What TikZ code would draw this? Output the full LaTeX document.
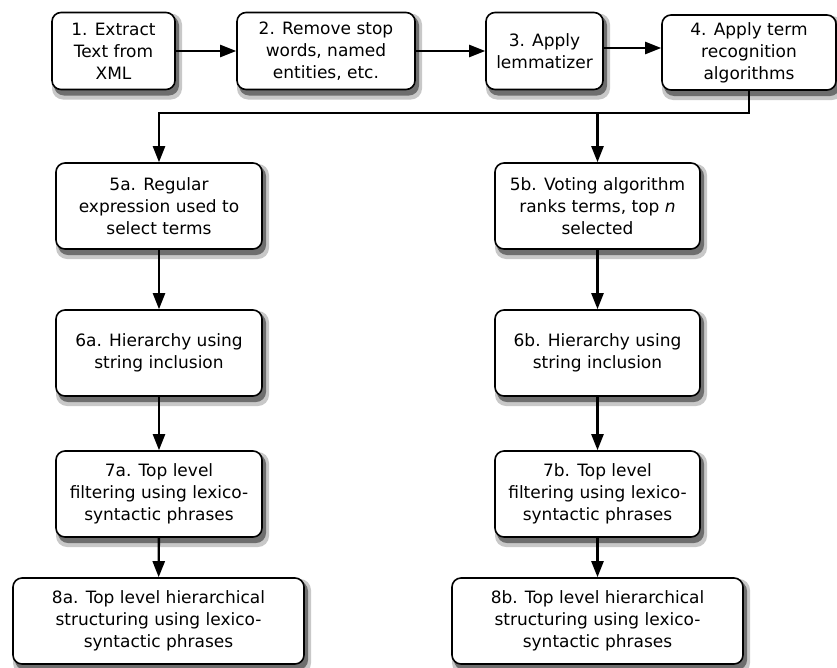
\documentclass[tikz,border=0pt]{standalone}
\usepackage{fontspec}
\setmainfont{DejaVu Sans}
\usepackage{xcolor}
\usepackage{tikz}
\usetikzlibrary{arrows.meta, positioning}
\definecolor{shadowgray}{RGB}{110,110,110}
\definecolor{halogray}{RGB}{200,200,200}
% box with its shadow: name, x, y, width, height, text
\newcommand{\stagebox}[6]{%
  \fill[halogray,rounded corners=11pt] (#2-#4/2,#3-#5/2+1) rectangle (#2+#4/2+7,#3+#5/2+10);
  \fill[shadowgray,rounded corners=10pt] (#2-#4/2+2,#3-#5/2+3) rectangle (#2+#4/2+4,#3+#5/2+6);
  \node[stage,minimum width=#4pt,minimum height=#5pt] (#1) at (#2,#3) {#6};}

\begin{document}
\begin{tikzpicture}[x=1pt,y=-1pt,
        font=\fontsize{17}{22}\selectfont,
        stage/.style={draw=black,fill=white,rounded corners=9pt,line width=1.6pt,
                      align=center,inner sep=2pt},
        flow/.style={line width=2.4pt,-{Triangle[length=16pt,width=12pt]}}]
      \useasboundingbox (0,0) rectangle (837,667);
      % top row
      \stagebox{s1}{113.5}{51}{123}{77}{1. Extract\\Text from\\XML}
      \stagebox{s2}{326}{51}{178}{77}{2. Remove stop\\words, named\\entities, etc.}
      \stagebox{s3}{544.5}{51}{117}{77}{3. Apply\\lemmatizer}
      \stagebox{s4}{749}{52.5}{174}{75}{4. Apply term\\recognition\\algorithms}
      % left branch
      \stagebox{s5a}{159}{206}{206}{86}{5a. Regular\\expression used to\\select terms}
      \stagebox{s6a}{159}{353}{206}{86}{6a. Hierarchy using\\string inclusion}
      \stagebox{s7a}{159}{494}{206}{86}{7a. Top level\\filtering using lexico-\\syntactic phrases}
      \stagebox{s8a}{158.5}{621}{291}{86}{8a. Top level hierarchical\\structuring using lexico-\\syntactic phrases}
      % right branch
      \stagebox{s5b}{597.5}{206}{205}{86}{5b. Voting algorithm\\ranks terms, top \textit{n}\\selected}
      \stagebox{s6b}{597.5}{353}{205}{86}{6b. Hierarchy using\\string inclusion}
      \stagebox{s7b}{597.5}{494}{205}{86}{7b. Top level\\filtering using lexico-\\syntactic phrases}
      \stagebox{s8b}{597.5}{621}{291}{86}{8b. Top level hierarchical\\structuring using lexico-\\syntactic phrases}
      \coordinate (busL) at (159,113);
      \coordinate (busR) at (597.5,113);
      \draw[flow] (s1.east) -- (s2.west);
      \draw[flow] (s2.east) -- (s3.west);
      \draw[flow] ([yshift=3pt]s3.east) -- ([yshift=3pt]s3.east -| s4.west);
      \draw[flow] (s4.south) |- (busL) -- (s5a.north);
      \draw[flow] (busR) -- (s5b.north);
      \draw[flow] (s5a) -- (s6a);
      \draw[flow] (s6a) -- (s7a);
      \draw[flow] (s7a) -- (s8a);
      \draw[flow] (s5b) -- (s6b);
      \draw[flow] (s6b) -- (s7b);
      \draw[flow] (s7b) -- (s8b);
    \end{tikzpicture}
\end{document}
